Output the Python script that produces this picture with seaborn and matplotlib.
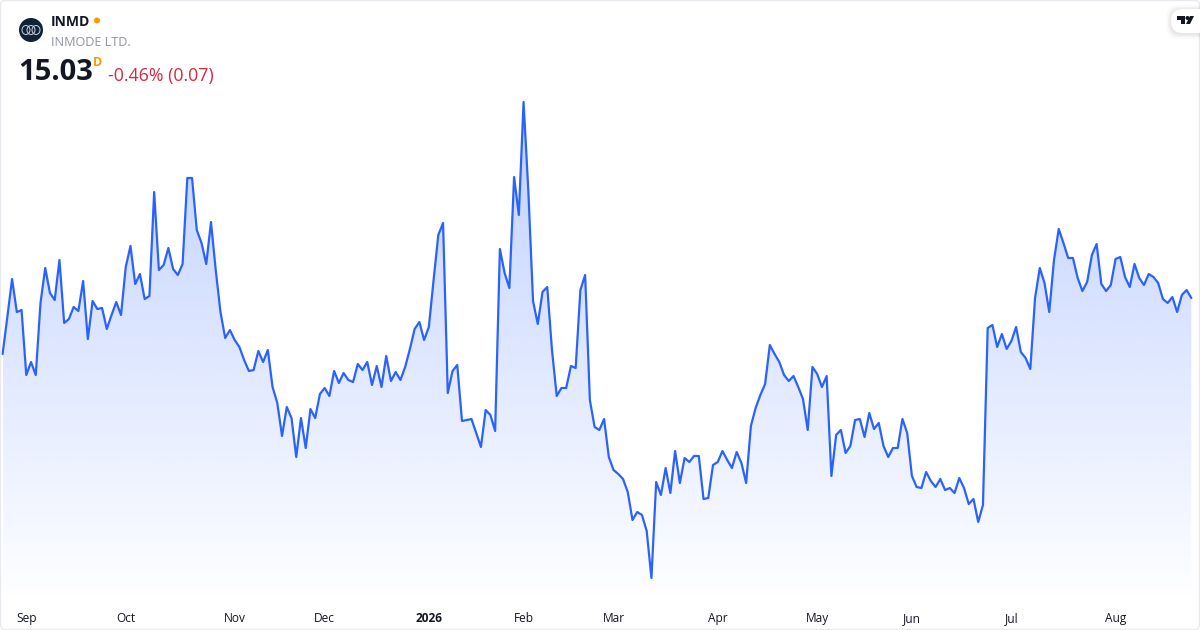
import numpy as np
import pandas as pd
import seaborn as sn
import matplotlib.pyplot as plt
from matplotlib.patches import Circle, Ellipse, FancyBboxPatch, Polygon

symbol = "INMD"
company = "INMODE LTD."
last_price = "15.03"
change_text = "-0.46% (0.07)"

holidays = ["2025-09-01", "2025-11-27", "2025-12-25", "2026-01-01", "2026-01-19",
            "2026-02-16", "2026-04-03", "2026-05-25", "2026-06-19", "2026-07-03"]

month_labels = ["Sep", "Oct", "Nov", "Dec", "2026", "Feb", "Mar", "Apr", "May", "Jun", "Jul", "Aug"]
month_starts = ["2025-09-02", "2025-10-01", "2025-11-03", "2025-12-01", "2026-01-02", "2026-02-02",
                "2026-03-02", "2026-04-01", "2026-05-01", "2026-06-01", "2026-07-01", "2026-08-03"]

prices = [
    14.47, 14.84, 15.22, 14.89, 14.91, 14.26, 14.39, 14.26, 14.98, 15.33,
    15.08, 15.01, 15.41, 14.78, 14.82, 14.94, 14.90, 15.20, 14.62, 15.00,
    14.92, 14.93, 14.72, 14.86, 14.99, 14.86, 15.34, 15.55, 15.17, 15.27,
    15.02, 15.05, 16.09, 15.31, 15.36, 15.53, 15.32, 15.26, 15.37, 16.23,
    16.23, 15.71, 15.58, 15.37, 15.79, 15.31, 14.89, 14.63, 14.71, 14.61,
    14.54, 14.41, 14.30, 14.31, 14.50, 14.39, 14.51, 14.14, 13.98, 13.65,
    13.94, 13.83, 13.44, 13.83, 13.53, 13.92, 13.83, 14.07, 14.13, 14.05,
    14.30, 14.18, 14.28, 14.21, 14.19, 14.37, 14.31, 14.39, 14.16, 14.35,
    14.14, 14.45, 14.20, 14.29, 14.21, 14.34, 14.52, 14.72, 14.79, 14.61,
    14.74, 15.21, 15.66, 15.78, 14.08, 14.30, 14.36, 13.80, 13.81, 13.82,
    13.68, 13.54, 13.91, 13.86, 13.70, 15.52, 15.28, 15.13, 16.24, 15.86,
    16.99, 16.11, 15.00, 14.77, 15.09, 15.14, 14.51, 14.05, 14.13, 14.13,
    14.35, 14.33, 15.11, 15.26, 14.01, 13.74, 13.71, 13.82, 13.44, 13.31,
    13.27, 13.22, 13.09, 12.81, 12.89, 12.86, 12.70, 12.23, 13.19, 13.06,
    13.33, 13.08, 13.50, 13.18, 13.43, 13.39, 13.45, 13.45, 13.02, 13.03,
    13.36, 13.39, 13.50, 13.41, 13.33, 13.49, 13.38, 13.18, 13.75, 13.93,
    14.06, 14.17, 14.56, 14.47, 14.39, 14.26, 14.20, 14.25, 14.14, 14.02,
    13.71, 14.34, 14.27, 14.14, 14.25, 13.25, 13.66, 13.71, 13.48, 13.55,
    13.81, 13.82, 13.64, 13.88, 13.72, 13.78, 13.55, 13.44, 13.53, 13.53,
    13.82, 13.68, 13.25, 13.14, 13.13, 13.29, 13.20, 13.14, 13.22, 13.11,
    13.13, 13.08, 13.23, 13.13, 12.97, 13.02, 12.79, 12.96, 14.73, 14.76,
    14.54, 14.67, 14.52, 14.60, 14.74, 14.49, 14.43, 14.32, 15.03, 15.33,
    15.18, 14.89, 15.41, 15.72, 15.58, 15.43, 15.43, 15.23, 15.10, 15.19,
    15.46, 15.57, 15.17, 15.10, 15.16, 15.42, 15.44, 15.24, 15.14, 15.37,
    15.23, 15.16, 15.27, 15.24, 15.18, 15.02, 14.98, 15.04, 14.89, 15.06,
    15.11, 15.03,
]

# trading days only, the x axis has no gaps for weekends
days = pd.bdate_range("2025-08-25", "2026-08-25").difference(pd.to_datetime(holidays))
df = pd.DataFrame({"day": days, "pos": np.arange(len(days)), "price": prices})
tick_pos = [days.get_loc(pd.Timestamp(d)) for d in month_starts]

LINE = "#2962ff"
TEXT = "#131722"

sn.set_theme(style="white")
plt.rcParams['font.family'] = ['Open Sans', 'DejaVu Sans']

fig = plt.figure(figsize=(12, 6.3), dpi=100, facecolor="white")
ax = fig.add_axes([0, 0, 1, 1])
xlim = (-0.55, 252.83)
ylim = (11.71, 18.01)

# gradient under the line, clipped to the area polygon
area = ax.fill_between(df["pos"], df["price"], 11.97, facecolor="none", edgecolor="none")
grad = np.zeros((256, 1, 4))
grad[:, 0, :3] = (41 / 255, 98 / 255, 1.0)
grad[:, 0, 3] = np.linspace(0.30, 0.0, 256)
im = ax.imshow(grad, extent=(df["pos"].iloc[0], df["pos"].iloc[-1], 11.97, 16.99),
               origin="upper", aspect="auto", zorder=1)
im.set_clip_path(area.get_paths()[0], transform=ax.transData)

sn.lineplot(data=df, x="pos", y="price", color=LINE, linewidth=1.6, errorbar=None, ax=ax, zorder=3)

ax.set_xlim(xlim)
ax.set_ylim(ylim)
ax.set_xlabel("")
ax.set_ylabel("")
ax.set_yticks([])
ax.set_xticks(tick_pos)
ax.set_xticklabels(month_labels, fontsize=8.6, color=TEXT)
ax.tick_params(axis="x", length=0, pad=-13.2)
for lab in ax.get_xticklabels():
    if lab.get_text() == "2026":
        lab.set_fontweight("bold")
sn.despine(ax=ax, left=True, bottom=True)

# overlay in pixel coordinates for the header and the logos
ov = fig.add_axes([0, 0, 1, 1], facecolor="none")
ov.set_xlim(0, 1200)
ov.set_ylim(630, 0)
ov.axis("off")

ov.add_patch(FancyBboxPatch((0.5, 0.5), 1199, 629, boxstyle="round,pad=0,rounding_size=5",
                            facecolor="none", edgecolor="#e8eaef", linewidth=1.0))

ov.add_patch(Circle((31, 30), 12, facecolor="#0f2237", edgecolor="none"))
for cx in (26, 31, 36):
    ov.add_patch(Ellipse((cx, 30), 8, 9, facecolor="none", edgecolor="#c9d2da", linewidth=0.7))

ov.text(51, 22, symbol, fontsize=10, fontweight="bold", color=TEXT, va="center", ha="left")
ov.add_patch(Circle((97, 20.5), 3, facecolor="#ff9800", edgecolor="none"))
ov.text(51, 42, company, fontsize=9.1, color="#8f939c", va="center", ha="left")
ov.text(18, 73, last_price, fontsize=21, fontweight="bold", color=TEXT, va="center", ha="left")
ov.text(93, 62, "D", fontsize=9, fontweight="bold", color="#ff9800", va="center", ha="left")
ov.text(108, 76, change_text, fontsize=12.8, color="#d6283f", va="center", ha="left")

# TradingView badge top right, soft shadow first
for grow, alpha in ((5, 0.02), (3, 0.03), (1.5, 0.04)):
    ov.add_patch(FancyBboxPatch((1171 - grow, 9 - grow + 1), 60 + 2 * grow, 24 + 2 * grow,
                                boxstyle="round,pad=0,rounding_size=12", facecolor="black",
                                edgecolor="none", alpha=alpha, clip_on=True))
ov.add_patch(FancyBboxPatch((1171, 9), 60, 24, boxstyle="round,pad=0,rounding_size=12",
                            facecolor="white", edgecolor="none", clip_on=True))
ov.add_patch(Polygon([(1177, 16), (1185, 16), (1185, 24), (1181, 24), (1181, 20), (1177, 20)],
                     facecolor=TEXT, edgecolor="none"))
ov.add_patch(Circle((1187.5, 18), 2, facecolor=TEXT, edgecolor="none"))
ov.add_patch(Polygon([(1190, 16), (1194, 16), (1190, 24), (1186, 24)], facecolor=TEXT, edgecolor="none"))

fig.savefig("out.png", dpi=100)
